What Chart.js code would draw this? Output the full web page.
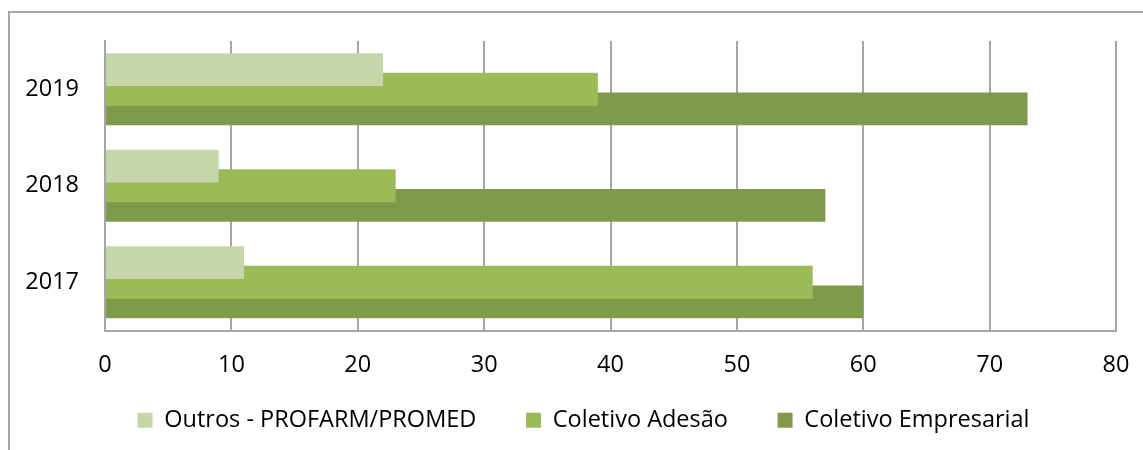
<!DOCTYPE html>
<html lang="pt">
<head>
    <meta charset="UTF-8">
    <title>Coletivo Empresarial / Adesão / Outros</title>
    <script src="https://cdn.jsdelivr.net/npm/chart.js"></script>
    <style>
        *{
            margin: 0;
            padding: 0;
        }
        body, html{
            width: 1143px;
            height: 450px;
            background: white;
            overflow: hidden;
        }
        #frame{
            position: absolute;
            left: 8px;
            top: 11px;
            width: 1133px;
            height: 437px;
            border-left: 2px solid #a6a6a6;
            border-top: 2px solid #a6a6a6;
        }
    </style>
</head>
<body>
    <div id="frame"><canvas id="chart"></canvas></div>
    <script>
        // anos (de cima para baixo, como no original)
        const years = ["2019", "2018", "2017"]
        const outros = [22, 9, 11]
        const adesao = [39, 23, 56]
        const empresarial = [73, 57, 60]
        const xTicks = [0, 10, 20, 30, 40, 50, 60, 70, 80]

        const gridGray = "#a6a6a6"
        const font = {family: "'Open Sans', sans-serif", size: 23.5}
        // extra room between legend entries (legend padding is also used vertically)
        const legendGap = "      "

        const data = {
            labels: years,
            datasets: [{
                label: "Outros - PROFARM/PROMED",
                backgroundColor: "#c6d6ab",
                data: outros
            },
            {
                label: "Coletivo Adesão",
                backgroundColor: "#9bbb59",
                data: adesao
            },
            {
                label: "Coletivo Empresarial",
                backgroundColor: "#7f9a48",
                data: empresarial
            }]
        }

        const config = {
            type: "bar",
            data: data,
            options: {
                indexAxis: "y",
                responsive: true,
                maintainAspectRatio: false,
                animation: false,
                categoryPercentage: 0.61,
                barPercentage: 1.67,
                layout: {padding: {top: 28, right: 0, bottom: 8, left: 14}},
                plugins: {
                    tooltip: {enabled: false},
                    legend: {
                        position: "bottom",
                        labels: {
                            font: font,
                            color: "#000",
                            boxWidth: 15,
                            boxHeight: 15,
                            padding: 13,
                            generateLabels: (chart) => {
                                const items = Chart.defaults.plugins.legend.labels.generateLabels(chart)
                                items.forEach((it, i) => {
                                    it.lineWidth = 0
                                    if (i < items.length - 1) it.text = it.text + legendGap
                                })
                                return items
                            }
                        }
                    }
                },
                scales: {
                    x: {
                        min: 0,
                        max: 80,
                        afterBuildTicks: (axis) => { axis.ticks = xTicks.map(v => ({value: v})) },
                        grid: {color: gridGray, lineWidth: 2, drawTicks: false},
                        border: {color: gridGray, width: 2},
                        ticks: {font: font, color: "#000", padding: 21},
                        afterFit: (axis) => {
                            axis.height = 65
                            axis.paddingLeft = 0
                            axis.paddingRight = 27
                        }
                    },
                    y: {
                        grid: {display: false, drawTicks: false},
                        border: {display: true, color: gridGray, width: 2},
                        ticks: {font: font, color: "#000", padding: 26},
                        afterFit: (axis) => {
                            axis.width = 81
                            axis.paddingTop = 0
                            axis.paddingBottom = 0
                        }
                    }
                }
            }
        }

        const chart = new Chart(document.getElementById("chart"), config)
    </script>
</body>
</html>
